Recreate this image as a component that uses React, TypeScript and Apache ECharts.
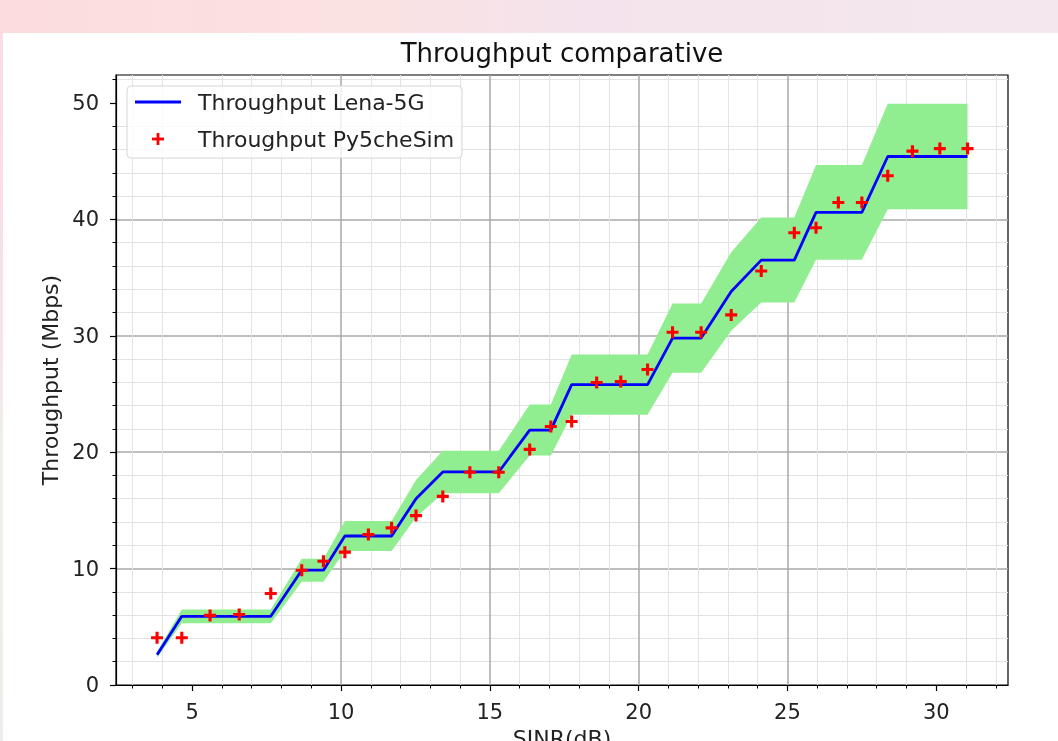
import React, { useEffect, useRef } from "react";
import * as echarts from "echarts";

// SINR (dB) sample points
const SINR = [3.82, 4.65, 5.6, 6.58, 7.64, 8.68, 9.41, 10.13, 10.92, 11.7, 12.52, 13.42, 14.33, 15.3, 16.34, 17.05, 17.75, 18.59, 19.4, 20.3, 21.14, 22.1, 23.11, 24.12, 25.23, 25.96, 26.71, 27.5, 28.37, 29.2, 30.12, 31.05];
// Throughput Lena-5G (Mbps)
const LENA = [2.6, 5.9, 5.9, 5.9, 5.9, 9.86, 9.86, 12.8, 12.8, 12.8, 16.0, 18.3, 18.3, 18.3, 21.9, 21.9, 25.8, 25.8, 25.8, 25.8, 29.8, 29.8, 33.8, 36.5, 36.5, 40.6, 40.6, 40.6, 45.4, 45.4, 45.4, 45.4];
// Throughput Py5cheSim (Mbps)
const PY5 = [4.06, 4.06, 5.98, 6.06, 7.86, 9.86, 10.63, 11.41, 12.92, 13.5, 14.55, 16.2, 18.27, 18.27, 20.24, 22.2, 22.64, 25.99, 26.07, 27.1, 30.3, 30.3, 31.79, 35.56, 38.85, 39.28, 41.45, 41.45, 43.74, 45.86, 46.08, 46.08];
// Green band lower / upper edges (Mbps)
const BAND_LOW = [2.34, 5.31, 5.31, 5.31, 5.31, 8.87, 8.87, 11.52, 11.52, 11.52, 14.4, 16.47, 16.47, 16.47, 19.71, 19.71, 23.22, 23.22, 23.22, 23.22, 26.82, 26.82, 30.42, 32.85, 32.85, 36.54, 36.54, 36.54, 40.86, 40.86, 40.86, 40.86];
const BAND_HIGH = [2.86, 6.49, 6.49, 6.49, 6.49, 10.85, 10.85, 14.08, 14.08, 14.08, 17.6, 20.13, 20.13, 20.13, 24.09, 24.09, 28.38, 28.38, 28.38, 28.38, 32.78, 32.78, 37.18, 40.15, 40.15, 44.66, 44.66, 44.66, 49.94, 49.94, 49.94, 49.94];

const X_TICKS = [5, 10, 15, 20, 25, 30];
const Y_TICKS = [0, 10, 20, 30, 40, 50];

const TITLE = "Throughput comparative";
const X_NAME = "SINR(dB)";
const Y_NAME = "Throughput (Mbps)";
const LEGEND = ["Throughput Lena-5G", "Throughput Py5cheSim"];

const FONT = "DejaVu Sans";
const PLUS = "path://M3.7,0 H6.3 V3.7 H10 V6.3 H6.3 V10 H3.7 V6.3 H0 V3.7 H3.7 Z";

export default function App() {
  const ref = useRef<HTMLDivElement>(null);
  useEffect(() => {
    if (!ref.current) return;
    const chart = echarts.init(ref.current, undefined, { renderer: "svg" });
    const axisLabelCommon = { color: "#222", fontFamily: FONT, fontSize: 21 };
    chart.setOption({
      animation: false,
      title: {
        text: TITLE,
        left: 557,
        top: 35,
        textAlign: "center",
        textStyle: { fontFamily: FONT, fontSize: 26, fontWeight: "normal", color: "#111" },
      },
      graphic: [
        {
          type: "rect",
          z: -100,
          shape: { x: 0, y: 0, width: 1058, height: 741 },
          style: {
            fill: new echarts.graphic.LinearGradient(0, 0, 1, 0, [
              { offset: 0, color: "#fcdcdc" },
              { offset: 0.35, color: "#fbe2e2" },
              { offset: 0.55, color: "#f4e3ec" },
              { offset: 1, color: "#f4e8ee" },
            ]),
          },
        },
        {
          type: "rect",
          z: -99,
          shape: { x: 0, y: 33, width: 3, height: 708 },
          style: {
            fill: new echarts.graphic.LinearGradient(0, 0, 0, 1, [
              { offset: 0, color: "#f9dde2" },
              { offset: 0.4, color: "#f7e2e6" },
              { offset: 0.6, color: "#eef0ea" },
              { offset: 1, color: "#ecefe9" },
            ]),
          },
        },
        {
          type: "rect",
          z: -98,
          shape: { x: 3, y: 33, width: 1055, height: 708 },
          style: { fill: "#ffffff" },
        },
        {
          type: "rect",
          z: 100,
          shape: { x: 127, y: 86, width: 335, height: 72, r: 4 },
          style: { fill: "rgba(255,255,255,0.8)", stroke: "#d6d6d6", lineWidth: 1 },
        },
        {
          type: "line",
          z: 101,
          shape: { x1: 135, y1: 102, x2: 181, y2: 102 },
          style: { stroke: "#0000ff", lineWidth: 2.8 },
        },
        {
          type: "group",
          z: 101,
          children: [
            { type: "rect", z: 101, shape: { x: 152, y: 137.6, width: 12, height: 2.8 }, style: { fill: "#ff0000" } },
            { type: "rect", z: 101, shape: { x: 156.6, y: 133, width: 2.8, height: 12 }, style: { fill: "#ff0000" } },
          ],
        },
        {
          type: "text",
          z: 101,
          x: 198,
          y: 102,
          style: { text: LEGEND[0], fontFamily: FONT, fontSize: 22, fill: "#222", verticalAlign: "middle" },
        },
        {
          type: "text",
          z: 101,
          x: 198,
          y: 139,
          style: { text: LEGEND[1], fontFamily: FONT, fontSize: 22, fill: "#222", verticalAlign: "middle" },
        },
      ],
      grid: {
        left: 116,
        right: 50,
        top: 75,
        bottom: 56,
        show: true,
        borderColor: "#000",
        borderWidth: 1.2,
        backgroundColor: "transparent",
        containLabel: false,
        outerBoundsMode: "none",
      },
      xAxis: {
        type: "value",
        min: 2.44,
        max: 32.41,
        name: X_NAME,
        nameLocation: "middle",
        nameGap: 42,
        nameTextStyle: { fontFamily: FONT, fontSize: 22, color: "#222" },
        axisLine: { show: true, lineStyle: { color: "#000", width: 1.2 } },
        axisTick: { show: true, customValues: X_TICKS, length: 6, lineStyle: { color: "#000", width: 1.2 } },
        axisLabel: { ...axisLabelCommon, customValues: X_TICKS, margin: 16 },
        minorTick: { show: true, splitNumber: 5, length: 3.5, lineStyle: { color: "#000", width: 1 } },
        splitLine: { show: true, showMinLine: false, showMaxLine: false, lineStyle: { color: "#a8a8a8", width: 1.5 } },
        minorSplitLine: { show: true, lineStyle: { color: "#e3e3e3", width: 1 } },
      },
      yAxis: {
        type: "value",
        min: 0,
        max: 52.4,
        name: Y_NAME,
        nameLocation: "middle",
        nameGap: 54,
        nameTextStyle: { fontFamily: FONT, fontSize: 22, color: "#222" },
        axisLine: { show: true, lineStyle: { color: "#000", width: 1.2 } },
        axisTick: { show: true, customValues: Y_TICKS, length: 6, lineStyle: { color: "#000", width: 1.2 } },
        axisLabel: { ...axisLabelCommon, customValues: Y_TICKS, margin: 17 },
        minorTick: { show: true, splitNumber: 5, length: 3.5, lineStyle: { color: "#000", width: 1 } },
        splitLine: { show: true, showMinLine: false, showMaxLine: false, lineStyle: { color: "#a8a8a8", width: 1.5 } },
        minorSplitLine: { show: true, lineStyle: { color: "#e3e3e3", width: 1 } },
      },
      series: [
        {
          type: "custom",
          name: "band",
          z: 1,
          silent: true,
          data: SINR.map((x, i) => [x, BAND_LOW[i], BAND_HIGH[i]]),
          encode: { x: 0, y: [1, 2] },
          renderItem: (params: any, api: any) => {
            if (params.dataIndex !== 0) return null;
            const pts: number[][] = [];
            for (let i = 0; i < SINR.length; i++) pts.push(api.coord([SINR[i], BAND_HIGH[i]]));
            for (let i = SINR.length - 1; i >= 0; i--) pts.push(api.coord([SINR[i], BAND_LOW[i]]));
            return { type: "polygon", shape: { points: pts }, style: { fill: "#90ee90" } };
          },
        },
        {
          type: "line",
          name: LEGEND[0],
          z: 3,
          data: SINR.map((x, i) => [x, LENA[i]]),
          showSymbol: false,
          symbol: "none",
          lineStyle: { color: "#0000ff", width: 2.8 },
        },
        {
          type: "scatter",
          name: LEGEND[1],
          z: 4,
          data: SINR.map((x, i) => [x, PY5[i]]),
          symbol: PLUS,
          symbolSize: 12,
          itemStyle: { color: "#ff0000", opacity: 1 },
        },
      ],
    });
    return () => chart.dispose();
  }, []);
  return <div ref={ref} style={{ position: "fixed", left: 0, top: 0, width: 1058, height: 741 }} />;
}
